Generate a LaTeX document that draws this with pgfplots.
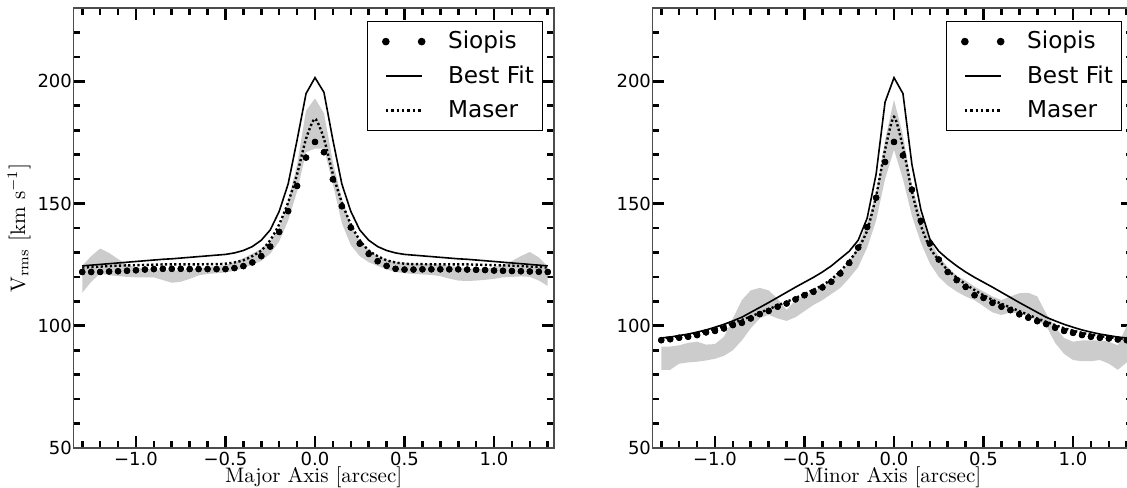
\documentclass[border=0pt]{standalone}
\usepackage{fontspec}
\usepackage{pgfplots}
\usepackage{pgfplotstable}
\usepgfplotslibrary{fillbetween}
\pgfplotsset{compat=1.18}
\newfontfamily\dejavu{DejaVu Sans}

\pgfplotstableread{
x s f m lo hi
-1.30 122.0 124.5 123.8 113.5 124.5
-1.25 122.0 124.8 124.0 118.0 128.5
-1.20 122.0 125.1 124.2 121.4 131.6
-1.15 122.2 125.4 124.4 120.7 129.8
-1.10 122.3 125.7 124.6 120.3 127.3
-1.05 122.5 126.0 124.7 120.0 125.0
-1.00 122.7 126.3 124.8 119.8 124.0
-0.95 123.0 126.6 124.9 119.8 123.3
-0.90 123.2 126.9 125.0 119.8 123.0
-0.85 123.3 127.2 125.1 118.7 122.8
-0.80 123.3 127.4 125.1 117.6 122.7
-0.75 123.3 127.7 125.1 118.0 122.7
-0.70 123.2 128.0 125.1 119.2 123.0
-0.65 123.2 128.3 125.1 120.6 123.4
-0.60 123.2 128.6 125.2 121.2 124.0
-0.55 123.2 128.9 125.2 121.5 124.5
-0.50 123.2 129.2 125.4 121.8 124.8
-0.45 123.6 129.8 125.9 122.5 126.0
-0.40 124.4 130.8 126.8 123.6 127.7
-0.35 125.9 132.4 128.5 125.0 129.5
-0.30 128.5 135.0 130.8 126.5 131.5
-0.25 132.4 139.2 135.0 129.5 134.5
-0.20 138.4 146.8 141.5 134.5 140.0
-0.15 146.9 158.0 150.5 143.0 151.0
-0.10 157.2 176.0 162.0 155.0 166.0
-0.05 168.8 195.0 176.5 171.0 188.0
0.00 175.2 201.5 184.7 172.5 193.0
0.05 171.0 195.5 176.5 172.5 187.0
0.10 159.9 176.0 162.0 158.0 167.0
0.15 148.9 158.0 150.5 142.0 152.0
0.20 140.2 146.8 141.5 133.0 141.0
0.25 133.6 139.2 135.0 128.5 134.5
0.30 129.4 135.0 130.8 126.0 131.0
0.35 126.4 132.4 128.5 124.5 128.5
0.40 124.5 130.8 126.8 123.0 127.0
0.45 123.3 129.8 125.9 122.0 126.2
0.50 123.0 129.2 125.4 121.5 125.7
0.55 123.0 128.9 125.2 121.2 125.5
0.60 123.1 128.6 125.2 121.0 125.3
0.65 123.1 128.3 125.1 120.8 125.3
0.70 123.1 128.0 125.1 120.3 125.0
0.75 123.1 127.7 125.1 119.3 124.5
0.80 123.1 127.4 125.1 118.5 124.0
0.85 123.0 127.2 125.1 118.3 123.5
0.90 122.9 126.9 125.0 118.5 123.3
0.95 122.8 126.6 124.9 118.8 123.3
1.00 122.6 126.3 124.8 119.2 124.0
1.05 122.5 126.0 124.7 119.8 125.0
1.10 122.4 125.7 124.6 120.0 126.5
1.15 122.3 125.4 124.4 120.2 128.5
1.20 122.2 125.1 124.2 120.0 130.2
1.25 122.1 124.8 124.0 118.5 128.0
1.30 122.0 124.5 123.8 116.3 124.3
}\major

\pgfplotstableread{
x s f m lo hi
-1.30 94.1 95.0 94.8 82.0 91.5
-1.25 94.5 95.4 95.2 82.0 91.5
-1.20 95.1 96.0 95.7 84.5 92.0
-1.15 95.5 96.6 96.3 85.0 93.0
-1.10 96.2 97.4 97.0 85.3 93.5
-1.05 97.3 98.3 97.8 85.8 92.3
-1.00 97.9 99.4 98.8 86.5 92.5
-0.95 98.9 100.6 99.9 87.7 95.5
-0.90 100.3 102.0 101.1 90.0 103.0
-0.85 101.2 103.5 102.4 94.0 110.5
-0.80 103.0 105.5 103.8 99.0 114.5
-0.75 104.8 107.5 105.3 103.0 115.5
-0.70 106.1 109.5 106.8 104.5 114.5
-0.65 107.8 111.6 108.3 103.0 111.0
-0.60 109.1 113.7 109.8 102.0 106.5
-0.55 110.8 115.8 111.4 103.5 110.5
-0.50 112.5 117.8 113.0 106.0 112.5
-0.45 113.9 119.8 114.7 108.5 114.0
-0.40 115.7 122.0 116.6 110.5 116.0
-0.35 118.0 124.5 119.0 113.0 118.5
-0.30 121.4 127.5 122.3 115.5 121.5
-0.25 125.7 130.5 126.5 119.5 126.0
-0.20 132.0 135.0 131.5 124.0 133.0
-0.15 140.4 144.0 139.0 132.0 142.0
-0.10 152.4 162.0 153.0 143.0 154.0
-0.05 167.0 191.5 172.0 160.0 176.0
0.00 175.2 201.5 185.5 172.0 192.5
0.05 169.7 195.0 173.0 160.0 178.0
0.10 155.7 166.0 155.0 145.0 157.0
0.15 142.9 147.5 141.0 134.0 145.0
0.20 133.7 135.5 132.0 125.5 135.0
0.25 127.1 130.5 126.8 120.0 128.5
0.30 122.0 127.3 122.8 116.5 124.0
0.35 118.7 124.5 119.7 114.0 120.5
0.40 115.9 122.0 117.0 112.0 118.5
0.45 112.5 119.8 114.6 110.5 116.0
0.50 111.4 117.8 112.5 108.0 114.0
0.55 109.4 115.8 110.6 105.5 112.0
0.60 107.8 113.7 109.0 104.4 110.5
0.65 106.4 111.6 107.5 105.5 112.0
0.70 104.7 109.5 106.0 105.0 113.3
0.75 103.3 107.5 104.5 104.0 113.5
0.80 101.9 105.5 103.0 102.0 112.0
0.85 100.7 103.5 101.6 100.0 105.0
0.90 99.2 102.0 100.3 93.0 99.5
0.95 97.9 100.6 99.0 88.5 95.0
1.00 97.1 99.4 98.0 86.0 93.5
1.05 96.2 98.3 97.1 85.5 94.0
1.10 95.5 97.4 96.4 85.5 94.0
1.15 95.1 96.6 95.8 86.0 94.0
1.20 94.8 96.0 95.3 84.5 93.5
1.25 94.4 95.4 94.9 82.0 92.0
1.30 94.1 95.0 94.6 85.0 100.0
}\minor

\pgfplotsset{
  panel/.style={
    scale only axis, width=240.35pt, height=220pt,
    xmin=-1.35, xmax=1.335, ymin=50, ymax=230,
    xtick={-1,-0.5,0,0.5,1},
    xticklabels={−1.0,−0.5,0.0,0.5,1.0},
    minor xtick={-1.3,-1.2,-1.1,-0.9,-0.8,-0.7,-0.6,-0.4,-0.3,-0.2,-0.1,0.1,0.2,0.3,0.4,0.6,0.7,0.8,0.9,1.1,1.2,1.3},
    ytick={50,100,150,200},
    yticklabels={50,100,150,200},
    minor ytick={60,70,80,90,110,120,130,140,160,170,180,190,210,220},
    tick align=inside,
    xtick pos=both, ytick pos=both,
    major tick length=6pt, minor tick length=3.5pt,
    tick style={black, line width=1.3pt},
    axis line style={black!70, line width=0.7pt},
    ticklabel style={font=\dejavu\fontsize{9}{10}\selectfont},
    xticklabel style={inner ysep=0.5pt, yshift=-1.5pt},
    yticklabel style={inner xsep=0.5pt},
    label style={font=\fontsize{10.5}{12}\selectfont},
    xlabel style={at={(axis description cs:0.5,-0.0795)}, anchor=base, inner sep=0pt},
    legend cell align=left,
    legend style={at={(axis description cs:1,1)}, anchor=north east,
      xshift=-5.3pt, yshift=-6.35pt, draw=black, line width=0.6pt,
      font=\dejavu\fontsize{11.6}{13}\selectfont,
      nodes={inner xsep=0pt},
      inner xsep=4.4pt, inner ysep=3pt, row sep=3pt,
      /tikz/every odd column/.append style={column sep=8.6pt}},
  },
  sio/.style={only marks, mark=*, mark size=1.4pt, black,
    legend image code/.code={\path (-4pt,0pt) (21.9pt,0pt); \fill[black] (0pt,0pt) circle (1.6pt); \fill[black] (17.9pt,0pt) circle (1.6pt);}},
  fit/.style={black, line width=0.8pt, mark=none,
    legend image code/.code={\path (-4pt,0pt) (21.9pt,0pt); \draw[black, line width=0.8pt] (0pt,0pt) -- (17.9pt,0pt);}},
  mas/.style={black, line width=1.2pt, dash pattern=on 1.1pt off 1.2pt, mark=none, smooth, tension=0.4,
    legend image code/.code={\path (-4pt,0pt) (21.9pt,0pt); \draw[black, line width=1.2pt, dash pattern=on 1.2pt off 1.5pt] (0pt,0pt) -- (17.9pt,0pt);}},
  band/.style={draw=none, forget plot},
}

\begin{document}
\begin{tikzpicture}
\begin{axis}[panel, at={(36.65pt,19.5pt)}, anchor=south west,
  xlabel={Major Axis [arcsec]},
  ylabel={$\mathrm{V_{rms}\ [km\ s^{-1}]}$},
  ylabel style={at={(axis description cs:-0.113,0.5)}, anchor=center}]
  \addplot[band, name path=hiA] table[x=x, y=hi] {\major};
  \addplot[band, name path=loA] table[x=x, y=lo] {\major};
  \addplot[fill=black!20, draw=none, forget plot] fill between[of=hiA and loA];
  \addplot[sio] table[x=x, y=s] {\major};
  \addlegendentry{Siopis}
  \addplot[fit] table[x=x, y=f] {\major};
  \addlegendentry{Best Fit}
  \addplot[mas] table[x=x, y=m] {\major};
  \addlegendentry{Maser}
  \addplot[sio, forget plot] table[x=x, y=s] {\major};
\end{axis}
\begin{axis}[panel, at={(326.15pt,19.5pt)}, anchor=south west,
  xlabel={Minor Axis [arcsec]}]
  \addplot[band, name path=hiB] table[x=x, y=hi] {\minor};
  \addplot[band, name path=loB] table[x=x, y=lo] {\minor};
  \addplot[fill=black!20, draw=none, forget plot] fill between[of=hiB and loB];
  \addplot[sio] table[x=x, y=s] {\minor};
  \addlegendentry{Siopis}
  \addplot[fit] table[x=x, y=f] {\minor};
  \addlegendentry{Best Fit}
  \addplot[mas] table[x=x, y=m] {\minor};
  \addlegendentry{Maser}
  \addplot[sio, forget plot] table[x=x, y=s] {\minor};
\end{axis}
\pgfresetboundingbox
\useasboundingbox (0pt,0pt) rectangle (563.5pt,243.5pt);
\end{tikzpicture}
\end{document}
